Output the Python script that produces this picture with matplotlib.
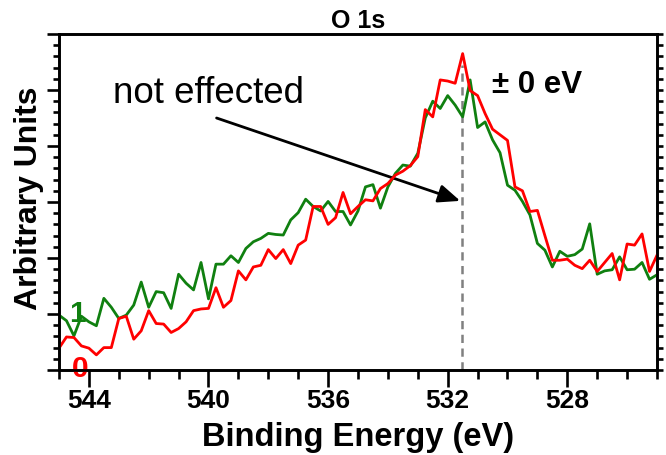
import numpy as np
import matplotlib
matplotlib.use('Agg')
import matplotlib.pyplot as plt
from matplotlib.ticker import MultipleLocator

plt.rcParams['font.family'] = ['Liberation Sans', 'DejaVu Sans']

# binding energy grid, 0.25 eV steps from 545 down to 525 eV
energy = np.arange(545.0, 524.99, -0.25)

# trace "1" (green)
trace_1 = [0.98, 0.88, 0.61, 0.96, 0.86, 0.79, 1.28, 1.12, 0.92, 0.98,
           1.16, 1.57, 1.12, 1.40, 1.38, 1.10, 1.71, 1.55, 1.43, 1.92,
           1.27, 1.89, 1.89, 2.04, 1.92, 2.17, 2.29, 2.35, 2.44, 2.42,
           2.41, 2.68, 2.81, 3.05, 2.92, 2.84, 3.01, 2.83, 2.83, 2.59,
           2.84, 3.27, 3.31, 2.89, 3.27, 3.51, 3.66, 3.64, 3.87, 4.50,
           4.80, 4.67, 4.90, 4.73, 4.52, 5.18, 4.33, 4.43, 4.11, 3.88,
           3.30, 3.21, 3.01, 2.77, 2.26, 2.14, 1.84, 2.12, 2.03, 2.06,
           2.16, 2.61, 1.71, 1.77, 1.79, 2.02, 1.79, 1.80, 1.92, 1.62,
           1.70]

# trace "0" (red)
trace_0 = [0.39, 0.59, 0.58, 0.43, 0.39, 0.27, 0.40, 0.40, 0.92, 0.96,
           0.55, 0.70, 1.06, 0.83, 0.82, 0.67, 0.74, 0.86, 1.06, 1.09,
           1.10, 1.47, 1.12, 1.24, 1.77, 1.61, 1.84, 1.87, 2.15, 1.99,
           2.15, 1.90, 2.23, 2.32, 2.92, 2.92, 2.60, 2.72, 3.17, 2.79,
           2.92, 3.04, 3.02, 3.24, 3.33, 3.48, 3.55, 3.65, 3.81, 4.65,
           4.52, 5.18, 5.16, 5.12, 5.65, 4.99, 4.90, 4.58, 4.30, 4.20,
           4.10, 3.27, 3.20, 2.83, 2.85, 2.40, 1.96, 1.96, 1.98, 1.87,
           1.81, 1.96, 1.76, 1.92, 2.08, 1.61, 2.25, 2.23, 2.43, 1.76,
           2.05]

peak_pos = 531.53
xticks = [544, 540, 536, 532, 528]

fig = plt.figure(figsize=(6.66, 4.55), dpi=100)
ax = fig.add_axes([59/666, 85/455, 598/666, 336/455])

ax.plot(energy, trace_1, color='#108010', lw=2.0, zorder=3)
ax.plot(energy, trace_0, color='#ff0000', lw=2.0, zorder=4)
ax.plot([peak_pos, peak_pos], [0, 5.45], color='#808080', lw=1.8,
        dashes=(3.3, 2.2), zorder=2)

ax.set_xlim(545, 525)
ax.set_ylim(0, 6)
ax.set_xticks(xticks)
ax.xaxis.set_minor_locator(MultipleLocator(1))
ax.yaxis.set_major_locator(MultipleLocator(1))
ax.yaxis.set_minor_locator(MultipleLocator(0.2))
ax.set_yticklabels([])

ax.tick_params(axis='x', which='major', direction='out', length=12, width=1.9,
               labelsize=19, pad=1.5, top=False)
ax.tick_params(axis='x', which='minor', direction='out', length=6.5, width=1.9, top=False)
ax.tick_params(axis='y', which='major', direction='out', length=8.6, width=1.9, right=False)
ax.tick_params(axis='y', which='minor', direction='out', length=4.3, width=1.9, right=False)
for lab in ax.get_xticklabels():
    lab.set_fontweight('bold')
for sp in ax.spines.values():
    sp.set_linewidth(1.9)

# right side: evenly spaced ticks, no labels
ax2 = ax.twinx()
ax2.set_ylim(0, 6)
ax2.set_yticks(np.arange(0, 6.01, 0.2))
ax2.tick_params(axis='y', direction='out', length=4.5, width=1.9, labelright=False)
for sp in ax2.spines.values():
    sp.set_linewidth(1.9)

ax.set_title('O 1s', fontsize=18, fontweight='bold', pad=4)
fig.text(358/666, 1 - 446/455, 'Binding Energy (eV)', ha='center', va='baseline',
         fontsize=23.5, fontweight='bold')
fig.text(29/666, 1 - 198/455, 'Arbitrary Units', ha='center', va='center',
         rotation=90, fontsize=23, fontweight='bold')

ax.text(543.2, 4.77, 'not effected', fontsize=26.5, ha='left', va='baseline')
ax.text(530.53, 4.95, '\u00b1 0 eV', fontsize=22.5, fontweight='bold',
        ha='left', va='baseline')
ax.text(544.4, 0.86, '1', color='#108010', fontsize=21.5, fontweight='bold',
        ha='center', va='baseline')
ax.text(544.3, -0.13, '0', color='#ff0000', fontsize=21.5, fontweight='bold',
        ha='center', va='baseline', zorder=6)

ax.annotate('', xy=(531.58, 3.02), xytext=(539.73, 4.5),
            arrowprops=dict(arrowstyle='-|>,head_length=0.6,head_width=0.25',
                            mutation_scale=22, lw=2.0, color='black',
                            shrinkA=0, shrinkB=0))

fig.savefig('out.png', dpi=100)
